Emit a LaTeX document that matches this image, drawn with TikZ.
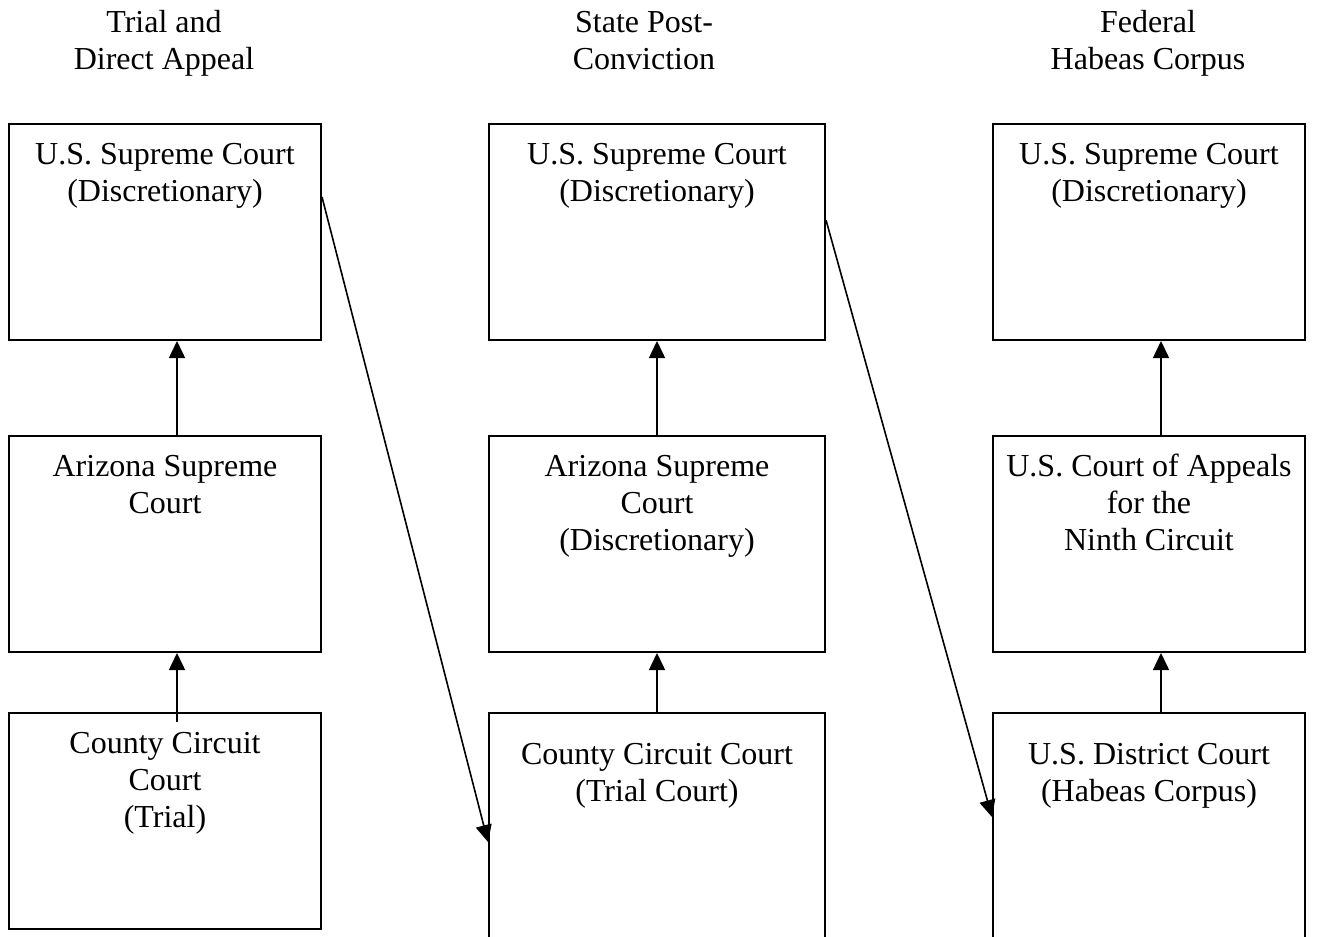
\documentclass[tikz,border=0pt]{standalone}
\usepackage{fontspec}
\setmainfont{Liberation Serif}
\usetikzlibrary{positioning,arrows.meta}

\begin{document}
\begin{tikzpicture}
  [x=1pt,y=-1pt,every node/.style={font=\fontsize{32}{37}\selectfont,align=center,inner sep=0pt},
   court/.style={draw,line width=2pt,minimum width=312pt,minimum height=216pt},
   appeal/.style={-{Triangle[length=17pt,width=16pt]},line width=1.6pt}]
  \clip (0,0) rectangle (1336,937);

  % column headings
  \node[anchor=north] (htrial) at (164,6) {\strut Trial and\\Direct Appeal};
  \node[anchor=north] (hpost) at (644,6) {\strut State Post-\\Conviction};
  \node[anchor=north] (hfed) at (1148,6) {\strut Federal\\Habeas Corpus};

  % boxes
  \node[court] (lsup) at (165,232) {};
  \node[court] (lmid) at (165,544) {};
  \node[court] (ltri) at (165,821) {};
  \node[court,minimum width=336pt] (msup) at (657,232) {};
  \node[court,minimum width=336pt] (mmid) at (657,544) {};
  \node[court,minimum width=336pt,minimum height=260pt] (mtri) at (657,843) {};
  \node[court] (rsup) at (1149,232) {};
  \node[court] (rmid) at (1149,544) {};
  \node[court,minimum height=260pt] (rdis) at (1149,843) {};

  % box texts
  \node[below=15pt of lsup.north] (lsuptxt) {\strut U.S. Supreme Court\\(Discretionary)};
  \node[below=15pt of lmid.north] (lmidtxt) {\strut Arizona Supreme\\Court};
  \node[below=15pt of ltri.north] (ltritxt) {\strut County Circuit\\Court\\(Trial)};
  \node[below=15pt of msup.north] (msuptxt) {\strut U.S. Supreme Court\\(Discretionary)};
  \node[below=15pt of mmid.north] (mmidtxt) {\strut Arizona Supreme\\Court\\(Discretionary)};
  \node[below=26pt of mtri.north] (mtritxt) {\strut County Circuit Court\\(Trial Court)};
  \node[below=15pt of rsup.north] (rsuptxt) {\strut U.S. Supreme Court\\(Discretionary)};
  \node[below=15pt of rmid.north] (rmidtxt) {\strut U.S. Court of Appeals\\for the\\Ninth Circuit};
  \node[below=26pt of rdis.north] (rdistxt) {\strut U.S. District Court\\(Habeas Corpus)};

  \foreach \from/\to/\dx/\dy in {lmid/lsup/12/0, ltri/lmid/12/-10, mmid/msup/0/0, mtri/mmid/0/0, rmid/rsup/12/0, rdis/rmid/12/0}
    \draw[appeal] ([xshift=\dx pt,yshift=\dy pt]\from.north) -- ([xshift=\dx pt]\to.south);

  \draw[appeal] ([yshift=35pt]lsup.east) -- ([yshift=1pt]mtri.west);
  \draw[appeal] ([yshift=12pt]msup.east) -- ([yshift=26pt]rdis.west);

\end{tikzpicture}
\end{document}
